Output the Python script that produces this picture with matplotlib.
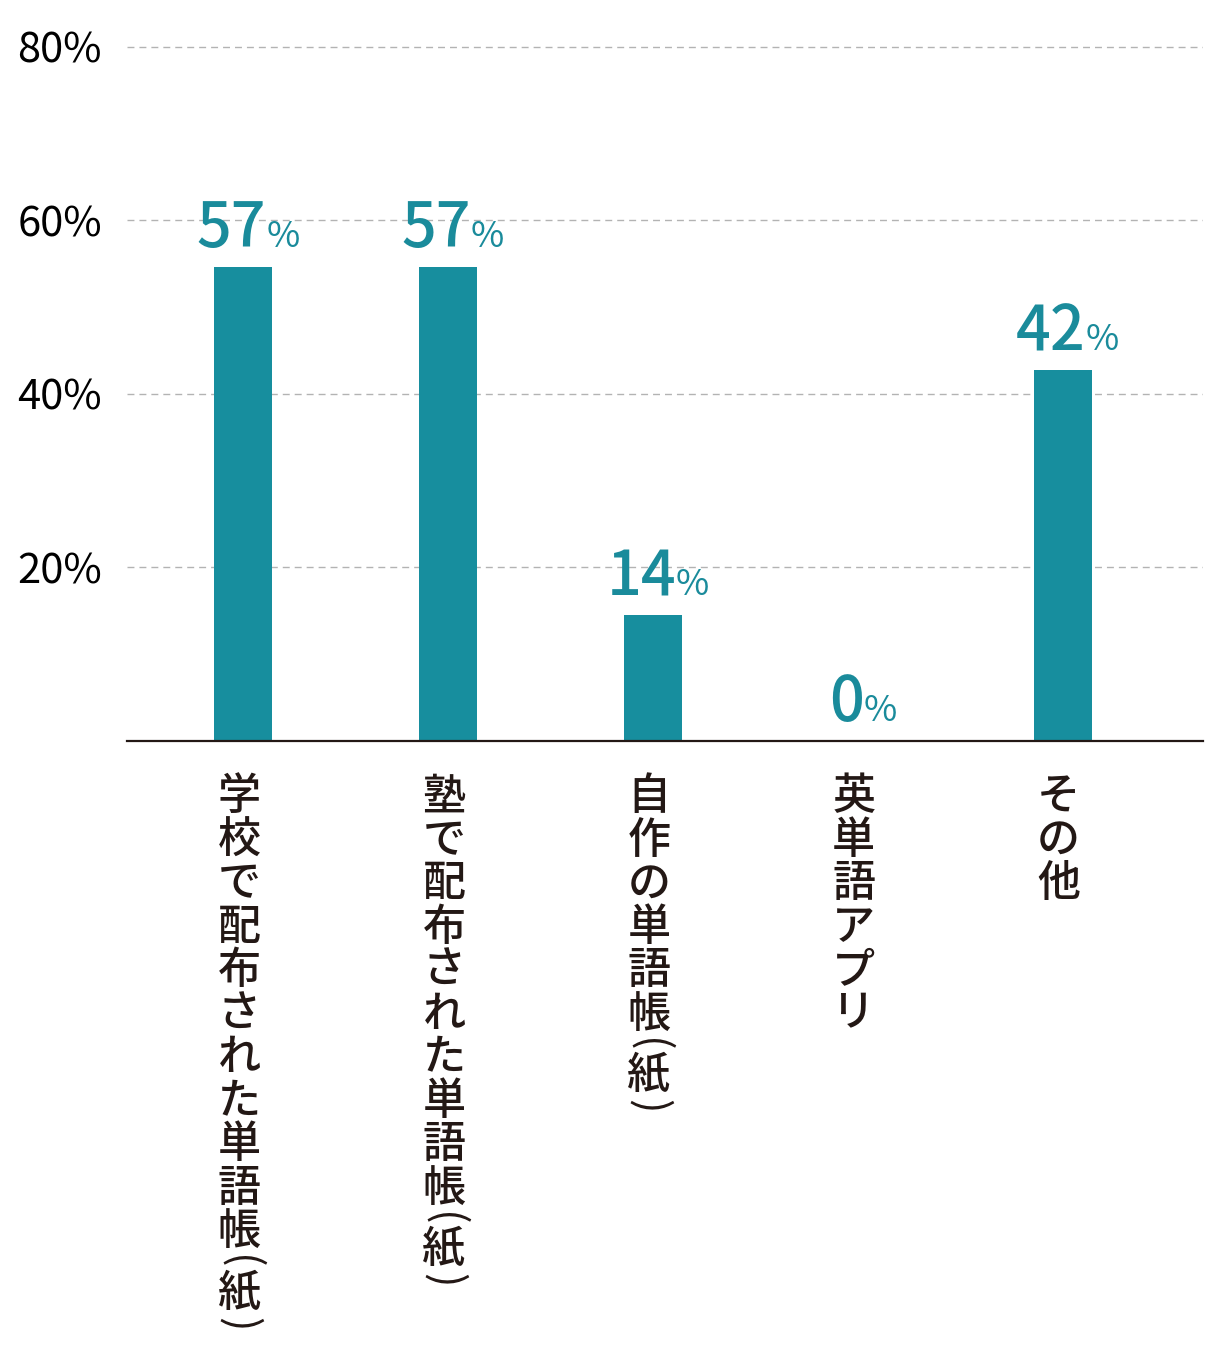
import numpy as np
import matplotlib
matplotlib.use("Agg")
import matplotlib.pyplot as plt

plt.rcParams['font.family'] = ['Noto Sans CJK JP', 'DejaVu Sans']

# data
categories = ['学校で配布された単語帳（紙）', '塾で配布された単語帳（紙）',
              '自作の単語帳（紙）', '英単語アプリ', 'その他']
pct_labels = [57, 57, 14, 0, 42]          # printed values
bar_heights = [54.6, 54.6, 14.5, 0, 42.7]  # bar tops as drawn
y_ticks = [20, 40, 60, 80]

TEAL = '#178e9e'
LABEL_TEAL = '#1a8b9b'
INK = '#231815'

fig = plt.figure(figsize=(12.18, 13.68), dpi=100)
ax = fig.add_axes([0.1043, 0.4583, 0.8834, 0.5140])

x = np.arange(len(categories))
ax.bar(x, bar_heights, width=0.283, color=TEAL, zorder=3)

ax.set_xlim(-0.566, 4.685)
ax.set_ylim(0, 81)
ax.set_yticks(y_ticks)
ax.set_yticklabels([f'{v}%' for v in y_ticks], fontsize=30, color='black')
ax.tick_params(axis='y', length=0, pad=18)
ax.set_xticks([])
for v in y_ticks:
    ax.axhline(v, color='#b3b3b3', lw=1.0, ls=(0, (5, 3.6)), zorder=1)
for s in ['top', 'right', 'left']:
    ax.spines[s].set_visible(False)
ax.spines['bottom'].set_color(INK)
ax.spines['bottom'].set_linewidth(1.6)
ax.spines['bottom'].set_zorder(4)

# value labels: big number + small percent sign
renderer = fig.canvas.get_renderer()
for i, (h, v) in enumerate(zip(bar_heights, pct_labels)):
    t_num = ax.annotate(str(v), xy=(i, h), xytext=(0, 20), textcoords='offset pixels',
                        ha='left', va='baseline', fontsize=44, fontweight='medium',
                        color=LABEL_TEAL, zorder=5)
    t_pct = ax.annotate('%', xy=(i, h), xytext=(0, 20), textcoords='offset pixels',
                        ha='left', va='baseline', fontsize=26,
                        color=LABEL_TEAL, zorder=5)
    wn = t_num.get_window_extent(renderer).width
    wp = t_pct.get_window_extent(renderer).width
    left = -(wn + wp) / 2 + 5
    t_num.xyann = (left, 20)
    t_pct.xyann = (left + wn, 20)

# vertical category labels, one glyph at a time
pitch = 43.5
paren_step = 18
for i, name in enumerate(categories):
    y = -34
    for ch in name:
        if ch in '（）()':
            g = '(' if ch in '（(' else ')'
            ax.annotate(g, xy=(i, 0), xytext=(-4, y - paren_step / 2),
                        textcoords='offset pixels', rotation=-90,
                        ha='center', va='center', fontsize=31, color=INK,
                        annotation_clip=False)
            y -= paren_step
        else:
            ax.annotate(ch, xy=(i, 0), xytext=(-4, y - pitch / 2),
                        textcoords='offset pixels',
                        ha='center', va='center', fontsize=31, color=INK,
                        fontweight='medium', annotation_clip=False)
            y -= pitch

fig.savefig('out.png', dpi=100, facecolor='white')
